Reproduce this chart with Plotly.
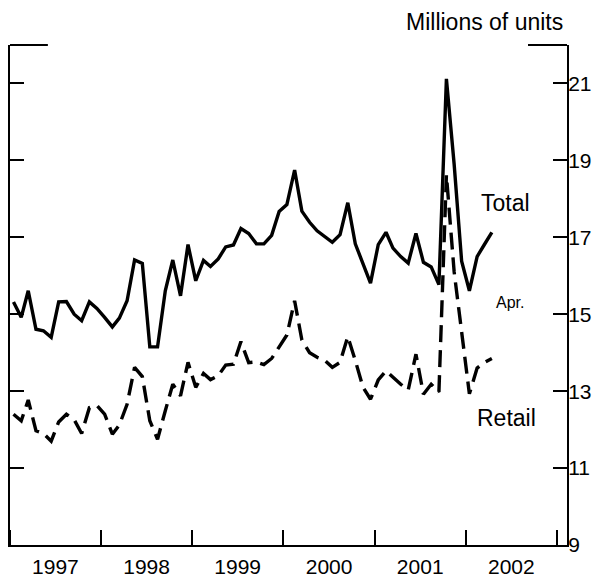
import plotly.graph_objects as go
from datetime import date

# Monthly light vehicle sales, Jan 1997 - Apr 2002 (millions of units, annual rate)
start_year = 1997
n_months = 64
months = [date(start_year + i // 12, i % 12 + 1, 15) for i in range(n_months)]

total = [15.32, 14.92, 15.61, 14.61, 14.57, 14.40, 15.32, 15.33, 15.00, 14.83, 15.32, 15.15,
         14.92, 14.67, 14.90, 15.35, 16.41, 16.32, 14.15, 14.15, 15.61, 16.41, 15.48, 16.81,
         15.87, 16.40, 16.24, 16.44, 16.75, 16.80, 17.23, 17.10, 16.83, 16.83, 17.05, 17.67,
         17.85, 18.75, 17.68, 17.39, 17.17, 17.03, 16.87, 17.07, 17.90, 16.83, 16.31, 15.81,
         16.81, 17.13, 16.72, 16.50, 16.33, 17.10, 16.35, 16.23, 15.77, 21.12, 18.90, 16.38,
         15.61, 16.50, 16.80, 17.13]

retail = [12.40, 12.23, 12.77, 11.97, 11.90, 11.70, 12.20, 12.40, 12.26, 11.90, 12.57, 12.63,
          12.40, 11.88, 12.12, 12.66, 13.62, 13.38, 12.23, 11.75, 12.49, 13.18, 12.88, 13.75,
          13.10, 13.46, 13.30, 13.40, 13.68, 13.70, 14.29, 13.74, 13.76, 13.69, 13.85, 14.16,
          14.46, 15.35, 14.33, 14.00, 13.88, 13.80, 13.62, 13.75, 14.42, 13.80, 13.10, 12.79,
          13.29, 13.53, 13.35, 13.18, 13.03, 13.96, 12.92, 13.18, 12.98, 18.62, 16.10, 14.60,
          12.93, 13.60, 13.74, 13.85]

year_labels = ["1997", "1998", "1999", "2000", "2001", "2002"]
year_label_pos = [f"{y}-07-02" for y in year_labels]
y_ticks = [9, 11, 13, 15, 17, 19, 21]

FONT = "Liberation Sans, Arial, Helvetica, sans-serif"

fig = go.Figure()
fig.add_trace(go.Scatter(x=months, y=total, mode="lines", name="Total",
                         line=dict(color="black", width=3.4)))
fig.add_trace(go.Scatter(x=months, y=retail, mode="lines", name="Retail",
                         line=dict(color="black", width=3.4, dash="17px,8px")))

# the page body adds an 8px offset; the figure is sized so the plot sits where the reference has it
fig.update_layout(
    width=605, height=573,
    margin=dict(l=2, r=46, t=37, b=36, autoexpand=False),
    plot_bgcolor="white", paper_bgcolor="white",
    showlegend=False,
    font=dict(family=FONT, size=20, color="black"),
    xaxis=dict(
        type="date",
        range=["1997-01-01", "2003-02-10"],
        tickmode="array", tickvals=year_label_pos, ticktext=year_labels,
        ticks="", showgrid=False, zeroline=False,
        showline=True, linecolor="black", linewidth=2,
        tickfont=dict(size=21),
        ticklabelstandoff=2,
        minor=dict(tickmode="linear", tick0="1997-01-01", dtick="M12",
                   ticks="inside", ticklen=15, tickwidth=2, tickcolor="black",
                   showgrid=False),
    ),
    yaxis=dict(
        range=[9, 22], side="right",
        tickmode="array", tickvals=y_ticks,
        ticks="inside", ticklen=14, tickwidth=2, tickcolor="black",
        showline=True, linecolor="black", linewidth=2, mirror="ticks",
        showgrid=False, zeroline=False,
        tickfont=dict(size=21),
        ticklabelstandoff=-5,
    ),
)

# top corner brackets
fig.add_shape(type="line", xref="paper", yref="paper", x0=0, x1=0.068, y0=1, y1=1,
              line=dict(color="black", width=2))
fig.add_shape(type="line", xref="paper", yref="paper", x0=0.93, x1=1, y0=1, y1=1,
              line=dict(color="black", width=2))

fig.add_annotation(text="Millions of units", xref="paper", yref="paper",
                   x=0.997, y=1.046, xanchor="right", yanchor="middle",
                   showarrow=False, font=dict(size=23))
fig.add_annotation(text="Total", xref="paper", yref="paper", x=0.889, y=0.684,
                   xanchor="center", yanchor="middle", showarrow=False, font=dict(size=23))
fig.add_annotation(text="Apr.", xref="paper", yref="paper", x=0.898, y=0.486,
                   xanchor="center", yanchor="middle", showarrow=False, font=dict(size=16))
fig.add_annotation(text="Retail", xref="paper", yref="paper", x=0.892, y=0.254,
                   xanchor="center", yanchor="middle", showarrow=False, font=dict(size=23))

fig.write_html("out.html")
